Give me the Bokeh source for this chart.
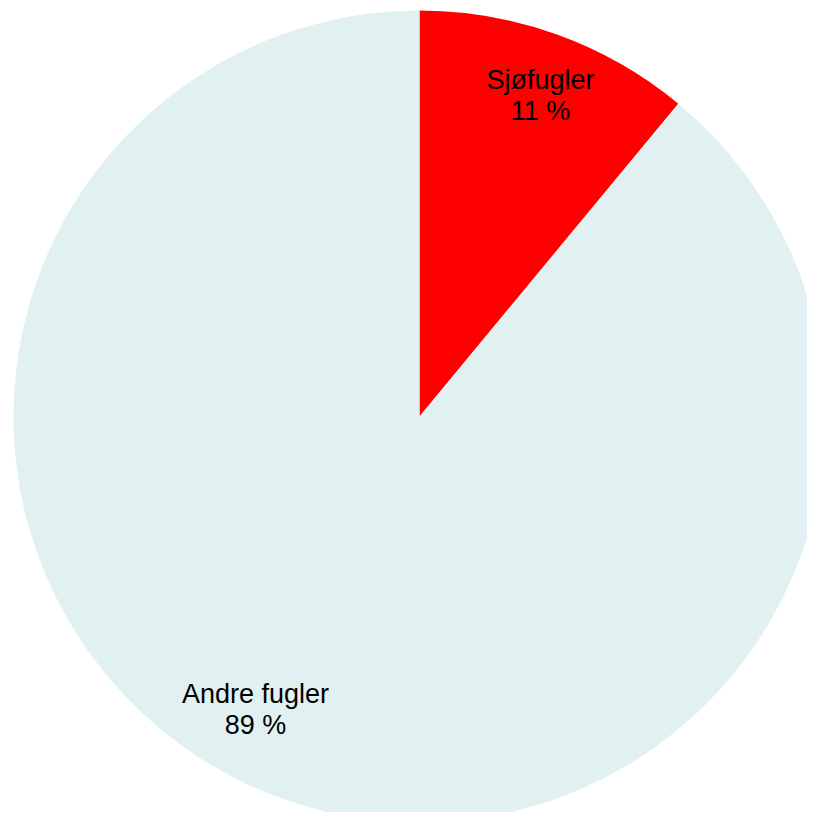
import math
from bokeh.plotting import figure
from bokeh.models import Range1d, ColumnDataSource
from bokeh.core.properties import value
from bokeh.embed import file_html
from bokeh.resources import INLINE

categories = ["Sjøfugler", "Andre fugler"]
shares = [11, 89]
colors = ["#FF0000", "#E1F0F1"]

# layout (screen pixel coordinates -> data units = pixels)
W, H = 807, 812
cx, cy = 419, H - 416
R = 406
label_pos = [(540, H - 79), (255, H - 693)]

total = sum(shares)
starts, ends = [], []
cum = 0.0
for s in shares:
    a0 = math.pi / 2 - 2 * math.pi * cum / total
    cum += s
    a1 = math.pi / 2 - 2 * math.pi * cum / total
    starts.append(a1)
    ends.append(a0)

src = ColumnDataSource(dict(cat=categories, start=starts, end=ends, color=colors,
                            x=[cx] * len(shares), y=[cy] * len(shares)))

p = figure(width=W, height=H, output_backend="svg", toolbar_location=None,
           x_range=Range1d(0, W), y_range=Range1d(0, H), min_border=0)
p.axis.visible = False
p.grid.visible = False
p.outline_line_color = None
p.background_fill_color = "white"

p.wedge(x="x", y="y", radius=R, start_angle="start", end_angle="end",
        fill_color="color", line_color=None, source=src)

names = ColumnDataSource(dict(x=[lp[0] for lp in label_pos], y=[lp[1] for lp in label_pos],
                              t=categories))
pcts = ColumnDataSource(dict(x=[lp[0] for lp in label_pos], y=[lp[1] - 31 for lp in label_pos],
                             t=[f"{s} %" for s in shares]))
for s in (names, pcts):
    p.text(x="x", y="y", text="t", source=s, text_align="center", text_baseline="middle",
           text_font=value("Liberation Sans"), text_font_size="27px", text_color="black")

open("out.html", "w").write(file_html(p, INLINE))
